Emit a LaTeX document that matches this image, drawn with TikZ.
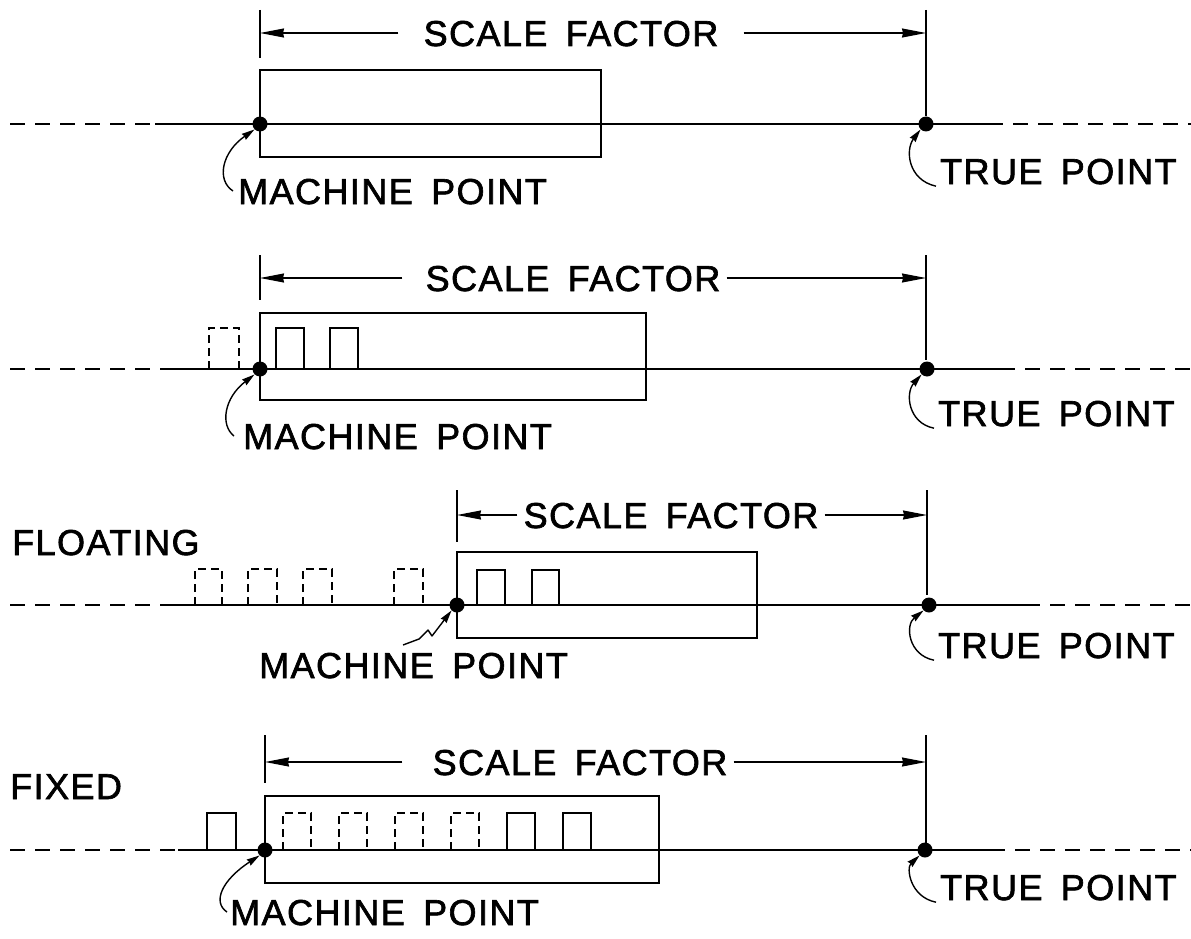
\documentclass[tikz,border=0pt]{standalone}
\usepackage{fontspec}
\setmainfont{Liberation Sans}[FakeBold=1.8,LetterSpace=4,WordSpace=1.6]
\usetikzlibrary{arrows.meta}

\begin{document}
\begin{tikzpicture}[x=1pt,y=-1pt,
  ext/.style={line width=1.3pt},
  dim/.style={line width=1.3pt,-{Stealth[length=24pt,width=9pt,inset=1pt]}},
  part/.style={draw,line width=1.8pt},
  axis/.style={line width=1.6pt},
  axisdash/.style={line width=1.6pt,dash pattern=on 15pt off 10pt},
  tooth/.style={line width=1.7pt},
  ghost/.style={line width=1.4pt,dash pattern=on 8pt off 5pt},
  pt/.style={circle,fill=black,inner sep=0pt,minimum size=15pt},
  lbl/.style={inner sep=0pt,text height=26pt,text depth=0pt,
    font=\fontsize{36}{36}\selectfont},
  leader/.style={line width=1.4pt,-{Stealth[length=13pt,width=7pt,inset=1pt]}},
]
\useasboundingbox (0,0) rectangle (1191,939);

% ---------------- first row ----------------
\draw[ext] (260,10) -- (260,58);
\draw[ext] (926,10) -- (926,116);
\coordinate (d1l) at (260,33);
\coordinate (d1r) at (926,33);
\node[lbl] (s1) at (571,33) {SCALE FACTOR};
\draw[dim] ([xshift=-25pt]s1.west) -- (d1l);
\draw[dim] ([xshift=25pt]s1.east) -- (d1r);
\draw[part] (260,70) rectangle (601,157);
\draw[axisdash] (10,124) -- (155,124);
\draw[axis] (155,124) -- (988,124);
\draw[axisdash] (988,124) -- (1191,124);
\node[pt] (m1) at (260,124) {};
\node[pt] (t1) at (926,124) {};
\node[lbl,anchor=west] (ml1) at (238,191) {MACHINE POINT};
\node[lbl,anchor=west] (tl1) at (940,171) {TRUE POINT};
\draw[leader] ([xshift=-5pt]ml1.west) .. controls (216,180) and (222,152) .. (m1.south west);
\draw[leader] ([shift={(-4pt,-2pt)}]tl1.south west) .. controls (908,180) and (905,150) .. (t1.south west);

% ---------------- second row ----------------
\draw[ext] (260,255) -- (260,300);
\draw[ext] (926,255) -- (926,360);
\coordinate (d2l) at (260,278);
\coordinate (d2r) at (926,278);
\node[lbl] (s2) at (573,278) {SCALE FACTOR};
\draw[dim] ([xshift=-23pt]s2.west) -- (d2l);
\draw[dim] ([xshift=6pt]s2.east) -- (d2r);
\draw[part] (260,313) rectangle (646,400);
\draw[axisdash] (10,369) -- (170,369);
\draw[axis] (170,369) -- (1000,369);
\draw[axisdash] (1000,369) -- (1191,369);
\draw[ghost] (209,369) |- (239,328) -- (239,369);
\draw[tooth] (276,369) |- (304,328) -- (304,369);
\draw[tooth] (330,369) |- (358,328) -- (358,369);
\node[pt] (m2) at (260,369) {};
\node[pt] (t2) at (927,369) {};
\node[lbl,anchor=west] (ml2) at (243,436) {MACHINE POINT};
\node[lbl,anchor=west] (tl2) at (938,413) {TRUE POINT};
\draw[leader] ([xshift=-9pt]ml2.west) .. controls (220,425) and (224,398) .. (m2.south west);
\draw[leader] ([shift={(-4pt,-2pt)}]tl2.south west) .. controls (908,423) and (905,393) .. (t2.south west);

% ---------------- third row: floating ----------------
\node[lbl,anchor=west] (fl) at (12,542) {FLOATING};
\draw[ext] (457,490) -- (457,542);
\draw[ext] (927,490) -- (927,595);
\coordinate (d3l) at (457,515);
\coordinate (d3r) at (927,515);
\node[lbl] (s3) at (671,515) {SCALE FACTOR};
\draw[dim] ([xshift=-6pt]s3.west) -- (d3l);
\draw[dim] ([xshift=6pt]s3.east) -- (d3r);
\draw[part] (457,552) rectangle (757,638);
\draw[axisdash] (10,605) -- (163,605);
\draw[axis] (163,605) -- (1025,605);
\draw[axisdash] (1025,605) -- (1191,605);
\draw[ghost] (195,605) |- (222,569) -- (222,605);
\draw[ghost] (248,605) |- (277,569) -- (277,605);
\draw[ghost] (303,605) |- (332,569) -- (332,605);
\draw[ghost] (394,605) |- (423,569) -- (423,605);
\draw[tooth] (477,605) |- (505,570) -- (505,605);
\draw[tooth] (532,605) |- (559,570) -- (559,605);
\node[pt] (m3) at (457,605) {};
\node[pt] (t3) at (929,605) {};
\node[lbl,anchor=west] (ml3) at (259,665) {MACHINE POINT};
\node[lbl,anchor=west] (tl3) at (938,645) {TRUE POINT};
\coordinate (sq3) at (403,645);
\draw[leader,line join=round] (sq3) -- (419,639) -- (428,630) -- (432,636) -- (m3.south west);
\draw[leader] ([shift={(-4pt,-2pt)}]tl3.south west) .. controls (908,655) and (905,625) .. (t3.south west);

% ---------------- fourth row: fixed ----------------
\node[lbl,anchor=west] (fx) at (10,786) {FIXED};
\draw[ext] (265,735) -- (265,783);
\draw[ext] (926,735) -- (926,843);
\coordinate (d4l) at (265,762);
\coordinate (d4r) at (926,762);
\node[lbl] (s4) at (580,762) {SCALE FACTOR};
\draw[dim] ([xshift=-30pt]s4.west) -- (d4l);
\draw[dim] ([xshift=6pt]s4.east) -- (d4r);
\draw[part] (265,796) rectangle (659,883);
\draw[axisdash] (10,850) -- (178,850);
\draw[axis] (178,850) -- (990,850);
\draw[axisdash] (990,850) -- (1191,850);
\draw[tooth] (207,850) |- (236,813) -- (236,850);
\draw[ghost] (283,850) |- (311,813) -- (311,850);
\draw[ghost] (339,850) |- (367,813) -- (367,850);
\draw[ghost] (395,850) |- (423,813) -- (423,850);
\draw[ghost] (451,850) |- (479,813) -- (479,850);
\draw[tooth] (507,850) |- (535,813) -- (535,850);
\draw[tooth] (563,850) |- (591,813) -- (591,850);
\node[pt] (m4) at (265,850) {};
\node[pt] (t4) at (925,850) {};
\node[lbl,anchor=west] (ml4) at (230,912) {MACHINE POINT};
\node[lbl,anchor=west] (tl4) at (940,887) {TRUE POINT};
\draw[leader] ([xshift=-3pt]ml4.west) .. controls (212,902) and (222,880) .. (m4.south west);
\draw[leader] ([shift={(-4pt,-2pt)}]tl4.south west) .. controls (910,897) and (906,868) .. (t4.south west);
\end{tikzpicture}
\end{document}
